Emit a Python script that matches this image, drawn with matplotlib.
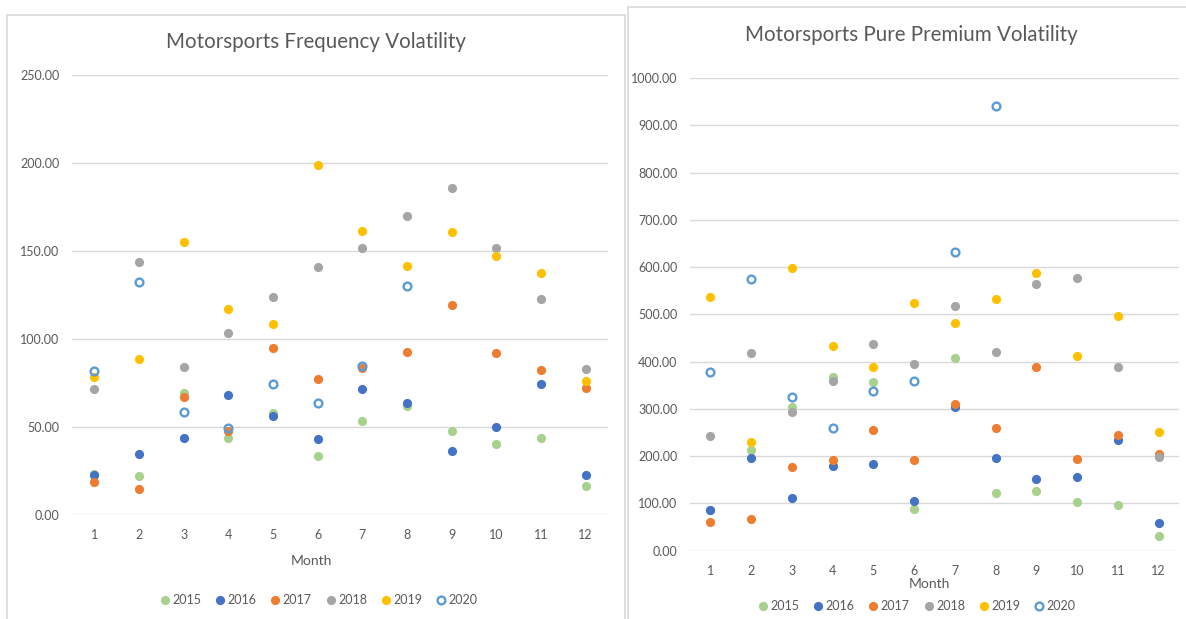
import matplotlib
matplotlib.use("Agg")
from matplotlib import pyplot as plt
from matplotlib.patches import Rectangle
from matplotlib.lines import Line2D
import numpy as np

plt.rcParams['font.family'] = ['Lato', 'DejaVu Sans']

months = list(range(1, 13))
years = ['2015', '2016', '2017', '2018', '2019', '2020']
colors = ['#A9D18E', '#4472C4', '#ED7D31', '#A5A5A5', '#FFC000', '#5B9BD5']

# frequency volatility, one list per year (2020 only goes to August)
freq_2015 = [23.0, 21.8, 69.5, 43.9, 57.6, 33.5, 53.2, 61.7, 47.5, 40.5, 43.6, 16.5]
freq_2016 = [22.7, 34.7, 43.9, 68.0, 56.3, 43.2, 71.8, 63.6, 36.2, 50.0, 74.1, 22.5]
freq_2017 = [18.6, 14.8, 66.7, 47.5, 95.1, 77.1, 83.7, 92.4, 119.5, 91.9, 82.2, 72.3]
freq_2018 = [71.4, 143.6, 84.3, 103.4, 123.9, 140.7, 151.7, 170.1, 185.8, 151.7, 122.5, 82.8]
freq_2019 = [78.6, 88.4, 155.1, 117.2, 108.5, 199.2, 161.4, 141.7, 160.8, 147.0, 137.7, 75.9]
freq_2020 = [81.6, 132.2, 58.5, 49.1, 74.2, 63.8, 84.7, 129.9]

# pure premium volatility
pp_2015 = [87, 214, 305, 367, 356, 88, 407, 123, 126, 102, 96, 31]
pp_2016 = [87, 197, 112, 180, 183, 106, 303, 197, 151, 156, 235, 59]
pp_2017 = [61, 68, 178, 192, 255, 192, 310, 260, 389, 195, 245, 204]
pp_2018 = [243, 418, 293, 358, 437, 394, 517, 421, 564, 577, 389, 199]
pp_2019 = [537, 229, 597, 433, 389, 525, 481, 533, 587, 412, 497, 252]
pp_2020 = [379, 575, 326, 260, 337, 360, 632, 941]

freq = [freq_2015, freq_2016, freq_2017, freq_2018, freq_2019, freq_2020]
pp = [pp_2015, pp_2016, pp_2017, pp_2018, pp_2019, pp_2020]

W, H = 1186, 619
fig = plt.figure(figsize=(W / 100, H / 100), dpi=100)
txt = '#595959'
grid = '#D9D9D9'

# chart area borders
fig.patches.append(Rectangle((7 / W, -0.1), 618 / W, 1.1 - 15 / H, transform=fig.transFigure,
                             fill=False, edgecolor=grid, lw=1.2))
fig.patches.append(Rectangle((628 / W, -0.1), 600 / W, 1.1 - 7 / H, transform=fig.transFigure,
                             fill=False, edgecolor=grid, lw=1.2))


def px(x0, y0, x1, y1):
    return [x0 / W, 1 - y1 / H, (x1 - x0) / W, (y1 - y0) / H]


def marker(yr, c):
    if yr == '2020':
        return dict(ls='none', marker='o', ms=5.6, mfc='none', mec=c, mew=1.7)
    return dict(ls='none', marker='o', ms=6.6, mfc=c, mec=c, mew=0)


def draw(ax, data, ymax, step, title, title_xy, xlabel_xy, legend_xy):
    for vals, yr, c in zip(data, years, colors):
        ax.plot(months[:len(vals)], vals, zorder=3, **marker(yr, c))
    ax.set_xlim(0.5, 12.5)
    ax.set_ylim(0, ymax)
    ax.set_xticks(months)
    ticks = np.arange(0, ymax + 1, step)
    ax.set_yticks(ticks)
    ax.set_yticklabels([f'{v:.2f}' for v in ticks])
    ax.grid(axis='y', color=grid, lw=1.0)
    ax.set_axisbelow(True)
    for s in ax.spines.values():
        s.set_visible(False)
    ax.tick_params(length=0, colors=txt, labelsize=9)
    ax.tick_params(axis='y', pad=9)
    ax.tick_params(axis='x', pad=10)
    fig.text(title_xy[0] / W, 1 - title_xy[1] / H, title, ha='center', va='center',
             fontsize=14.8, color=txt)
    fig.text(xlabel_xy[0] / W, 1 - xlabel_xy[1] / H, 'Month', ha='center', va='center',
             fontsize=10, color=txt)
    handles = [Line2D([], [], **marker(yr, c)) for yr, c in zip(years, colors)]
    fig.legend(handles, years, loc='center', bbox_to_anchor=(legend_xy[0] / W, 1 - legend_xy[1] / H),
               ncol=6, frameon=False, fontsize=9, labelcolor=txt, handletextpad=0.1,
               columnspacing=1.0, handlelength=1.0, borderpad=0)


ax1 = fig.add_axes(px(72, 75.3, 608, 514.7))
draw(ax1, freq, 250, 50, 'Motorsports Frequency Volatility', (316, 42), (311, 561), (318, 600))

ax2 = fig.add_axes(px(690, 78, 1179, 550.7))
draw(ax2, pp, 1000, 100, 'Motorsports Pure Premium Volatility', (911, 35), (929, 584), (916, 606))

fig.savefig('out.png', dpi=100)
